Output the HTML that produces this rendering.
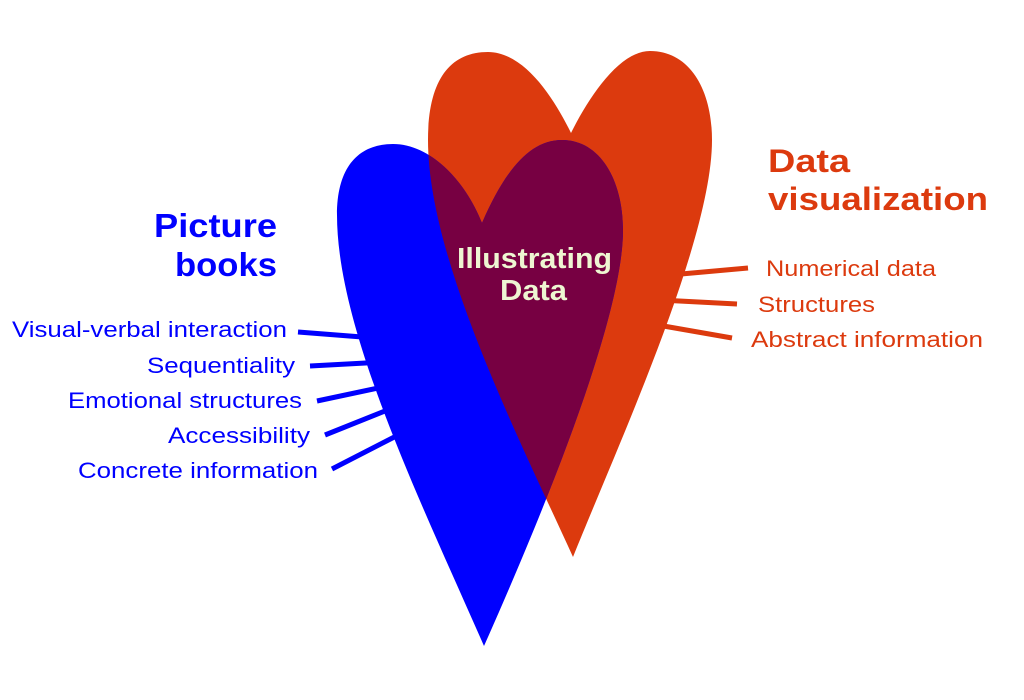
<!DOCTYPE html>
<html>
<head>
<meta charset="utf-8">
<style>
  html,body{margin:0;padding:0;background:#fff;}
  svg{display:block;}
  text{font-family:"Liberation Sans",sans-serif;}
</style>
</head>
<body>
<svg width="1024" height="700" viewBox="0 0 1024 700" xmlns="http://www.w3.org/2000/svg">
  <defs>
    <clipPath id="orangeClip">
      <path d="M573,557 C520,440 428,260 428,140 C428,80 450,52 488,52 C525,52 555,100 571,133 C590,95 620,51 650,51 C690,51 712,90 712,140 C712,240 620,440 573,557 Z"/>
    </clipPath>
  </defs>

  <!-- connector lines -->
  <g stroke="#0000ff" stroke-width="5" stroke-linecap="butt">
    <line x1="298" y1="332" x2="375" y2="338"/>
    <line x1="310" y1="366" x2="385" y2="362"/>
    <line x1="317" y1="401" x2="392" y2="385"/>
    <line x1="325" y1="435" x2="400" y2="405"/>
    <line x1="332" y1="469" x2="408" y2="430"/>
  </g>
  <g stroke="#dc3a0e" stroke-width="5" stroke-linecap="butt">
    <line x1="670" y1="275" x2="748" y2="268"/>
    <line x1="660" y1="300" x2="737" y2="304"/>
    <line x1="652" y1="324" x2="732" y2="338"/>
  </g>

  <!-- orange heart -->
  <path fill="#dc3a0e" d="M573,557 C520,440 428,260 428,140 C428,80 450,52 488,52 C525,52 555,100 571,133 C590,95 620,51 650,51 C690,51 712,90 712,140 C712,240 620,440 573,557 Z"/>

  <!-- blue heart -->
  <path fill="#0000ff" d="M484,646 C420,500 337,330 337,215 C337,165 360,144 393,144 C430,144 465,180 482,223 C505,170 530,140 562,140 C600,140 623,180 623,230 C623,320 540,520 484,646 Z"/>

  <!-- intersection -->
  <path fill="#770042" clip-path="url(#orangeClip)" d="M484,646 C420,500 337,330 337,215 C337,165 360,144 393,144 C430,144 465,180 482,223 C505,170 530,140 562,140 C600,140 623,180 623,230 C623,320 540,520 484,646 Z"/>

  <!-- titles -->
  <g fill="#0000ff" font-weight="bold" font-size="33">
    <text x="154" y="237" textLength="123" lengthAdjust="spacingAndGlyphs">Picture</text>
    <text x="175" y="276" textLength="102" lengthAdjust="spacingAndGlyphs">books</text>
  </g>
  <g fill="#dc3a0e" font-weight="bold" font-size="32">
    <text x="768" y="172" textLength="82" lengthAdjust="spacingAndGlyphs">Data</text>
    <text x="768" y="210" textLength="220" lengthAdjust="spacingAndGlyphs">visualization</text>
  </g>
  <g fill="#eef6d2" font-weight="bold" font-size="29">
    <text x="457" y="268" textLength="155" lengthAdjust="spacingAndGlyphs">Illustrating</text>
    <text x="500" y="300" textLength="67" lengthAdjust="spacingAndGlyphs">Data</text>
  </g>

  <!-- left labels -->
  <g fill="#0000ff" font-size="22">
    <text x="12" y="337" textLength="275" lengthAdjust="spacingAndGlyphs">Visual-verbal interaction</text>
    <text x="147" y="373" textLength="148" lengthAdjust="spacingAndGlyphs">Sequentiality</text>
    <text x="68" y="408" textLength="234" lengthAdjust="spacingAndGlyphs">Emotional structures</text>
    <text x="168" y="443" textLength="142" lengthAdjust="spacingAndGlyphs">Accessibility</text>
    <text x="78" y="478" textLength="240" lengthAdjust="spacingAndGlyphs">Concrete information</text>
  </g>

  <!-- right labels -->
  <g fill="#dc3a0e" font-size="22">
    <text x="766" y="276" textLength="170" lengthAdjust="spacingAndGlyphs">Numerical data</text>
    <text x="758" y="312" textLength="117" lengthAdjust="spacingAndGlyphs">Structures</text>
    <text x="751" y="347" textLength="232" lengthAdjust="spacingAndGlyphs">Abstract information</text>
  </g>
</svg>
</body>
</html>
